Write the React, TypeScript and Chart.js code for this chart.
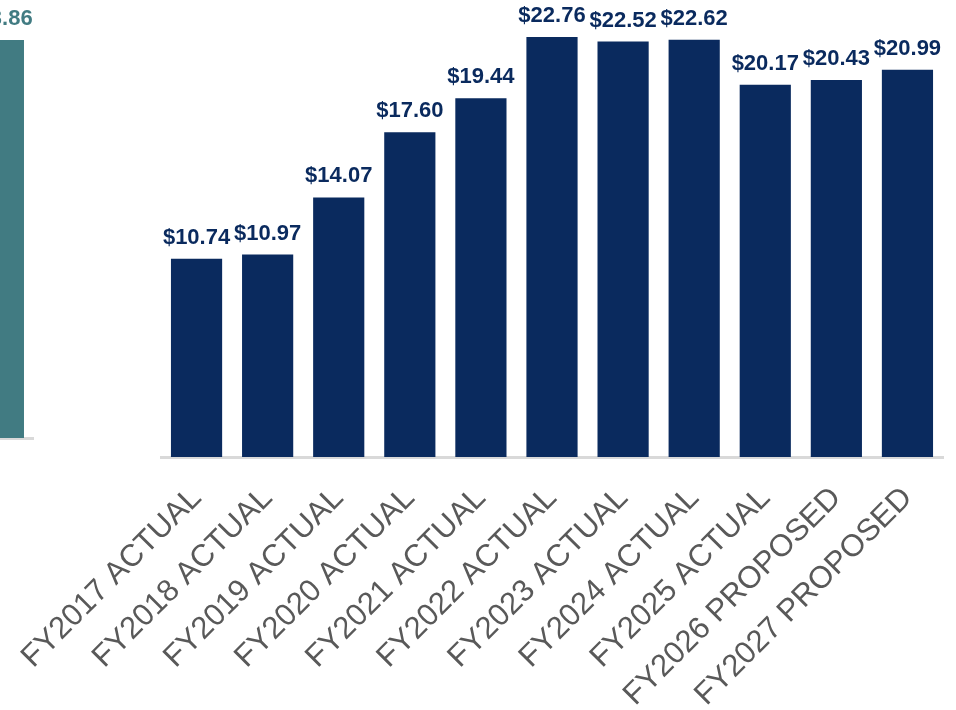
import React, { useEffect, useRef } from "react";
import { Chart, registerables } from "chart.js";

Chart.register(...registerables);

const categories = [
  "FY2017 ACTUAL",
  "FY2018 ACTUAL",
  "FY2019 ACTUAL",
  "FY2020 ACTUAL",
  "FY2021 ACTUAL",
  "FY2022 ACTUAL",
  "FY2023 ACTUAL",
  "FY2024 ACTUAL",
  "FY2025 ACTUAL",
  "FY2026 PROPOSED",
  "FY2027 PROPOSED",
];
const values = [10.74, 10.97, 14.07, 17.6, 19.44, 22.76, 22.52, 22.62, 20.17, 20.43, 20.99];

const leftCategories = [""];
const leftValues = [23.86];

const NAVY = "#0a2a5e";
const TEAL = "#417b82";
const FONT = "'Liberation Sans', Arial, sans-serif";

function labelPlugin(color: string) {
  return {
    id: "valueLabels",
    afterDatasetsDraw(chart: any) {
      const ctx = chart.ctx;
      const meta = chart.getDatasetMeta(0);
      const data = chart.data.datasets[0].data as number[];
      ctx.save();
      ctx.fillStyle = color;
      ctx.font = `bold 22px ${FONT}`;
      ctx.textAlign = "center";
      ctx.textBaseline = "alphabetic";
      meta.data.forEach((bar: any, i: number) => {
        ctx.fillText("$" + data[i].toFixed(2), bar.x, bar.y - 15);
      });
      ctx.restore();
    },
  };
}

export default function App() {
  const mainRef = useRef<HTMLCanvasElement>(null);
  const leftRef = useRef<HTMLCanvasElement>(null);

  useEffect(() => {
    document.body.style.margin = "0";
    const main = new Chart(mainRef.current!, {
      type: "bar",
      data: {
        labels: categories,
        datasets: [
          {
            data: values,
            backgroundColor: NAVY,
            borderWidth: 0,
            barPercentage: 0.72,
            categoryPercentage: 1,
          },
        ],
      },
      options: {
        responsive: false,
        animation: false,
        devicePixelRatio: 1,
        layout: { padding: { left: 161, right: 13, top: 0, bottom: 0 } },
        plugins: { legend: { display: false }, tooltip: { enabled: false } },
        scales: {
          x: {
            grid: { display: false },
            border: { display: true, color: "#d9d9d9", width: 3 },
            ticks: {
              color: "#595959",
              font: { family: FONT, size: 31 },
              minRotation: 45,
              maxRotation: 45,
              autoSkip: false,
              padding: 15,
            },
            afterFit: (s: any) => {
              s.paddingLeft = 0;
              s.paddingRight = 0;
              s.height = 253;
            },
          },
          y: { display: false, min: 0, max: 24.77 },
        },
      },
      plugins: [labelPlugin(NAVY)],
    });

    const left = new Chart(leftRef.current!, {
      type: "bar",
      data: {
        labels: leftCategories,
        datasets: [
          {
            data: leftValues,
            backgroundColor: TEAL,
            borderWidth: 0,
            barPercentage: 0.714,
            categoryPercentage: 1,
          },
        ],
      },
      options: {
        responsive: false,
        animation: false,
        devicePixelRatio: 1,
        layout: { padding: 0 },
        plugins: { legend: { display: false }, tooltip: { enabled: false } },
        scales: {
          x: {
            grid: { display: false },
            border: { display: true, color: "#d9d9d9", width: 3 },
            ticks: { display: false },
            afterFit: (s: any) => {
              s.paddingLeft = 0;
              s.paddingRight = 0;
              s.height = 102;
            },
          },
          y: { display: false, min: 0, max: 26.25 },
        },
      },
      plugins: [labelPlugin(TEAL)],
    });

    return () => {
      main.destroy();
      left.destroy();
    };
  }, []);

  return (
    <div style={{ position: "relative", width: 956, height: 710, overflow: "hidden", background: "#fff" }}>
      <canvas ref={mainRef} width={956} height={710} style={{ position: "absolute", left: 0, top: 0 }} />
      <canvas ref={leftRef} width={70} height={540} style={{ position: "absolute", left: -36, top: 0 }} />
    </div>
  );
}
